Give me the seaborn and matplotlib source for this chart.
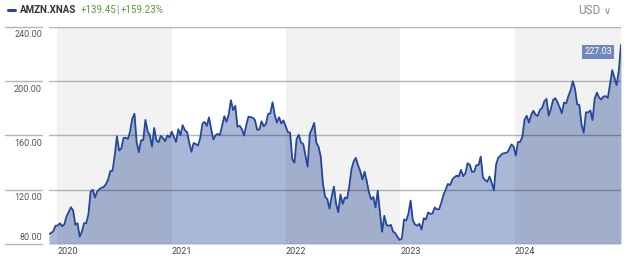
import numpy as np
import pandas as pd
import matplotlib
matplotlib.use("Agg")
import matplotlib.pyplot as plt
import matplotlib.dates as mdates
import matplotlib.transforms as mtransforms
from matplotlib.lines import Line2D
import seaborn as sns

# ---------------- data (weekly closes, AMZN, USD) ----------------
start_date = "2019-12-06"
prices = [
    # Dec 2019
    87.6, 88.0, 89.6, 93.5,
    # 2020
    93.7, 95.3, 93.1, 94.6, 100.4,
    103.6, 107.1, 104.8, 94.2,
    95.3, 85.5, 89.0, 95.4,
    95.3, 102.1, 118.6, 120.0,
    114.3, 118.7, 120.4, 121.5, 122.1,
    124.2, 127.7, 133.8, 134.0,
    145.5, 159.4, 149.0, 150.4, 158.2,
    158.4, 157.4, 163.0, 172.5,
    176.0, 155.1, 147.7, 156.4,
    156.6, 171.5, 163.1, 160.2, 151.8,
    165.6, 156.4, 155.0, 159.8,
    158.1, 155.8, 160.1, 158.6, 162.8,
    # 2021
    159.1, 155.2, 164.6, 160.3,
    167.6, 163.9, 162.5, 154.6,
    148.0, 154.5, 153.7, 152.6,
    158.1, 168.6, 170.0, 167.0, 173.4,
    164.6, 157.0, 160.2, 161.2,
    160.3, 167.3, 174.3, 170.1,
    175.5, 186.0, 178.7, 181.9, 166.4,
    167.2, 164.7, 160.0, 167.5,
    173.9, 173.5, 173.1, 171.3,
    164.2, 164.4, 170.5, 166.8, 168.6,
    175.9, 176.3, 184.5, 175.2,
    169.5, 173.4, 168.9, 171.1, 166.7,
    # 2022
    162.6, 162.1, 142.6, 140.0,
    157.6, 160.5, 154.7, 153.8,
    145.6, 137.0, 161.3, 164.8, 169.3,
    154.5, 151.7, 144.4, 124.3,
    114.8, 113.1, 106.0, 115.1,
    122.3, 109.6, 103.5, 116.5,
    109.6, 114.3, 113.5, 122.4, 135.0,
    140.8, 143.5, 138.2, 133.8,
    127.5, 133.3, 126.3, 118.0, 113.0,
    114.6, 106.9, 119.3, 103.4,
    89.0, 100.8, 94.1, 93.4,
    94.1, 89.2, 87.9, 85.3, 83.0,
    # 2023
    84.0, 98.1, 97.3, 102.2,
    112.0, 97.6, 94.4, 93.5,
    94.9, 90.7, 99.0, 98.1, 103.3,
    102.1, 102.5, 107.0, 105.5,
    105.7, 110.3, 116.3, 120.1,
    124.3, 123.4, 127.5, 129.3, 130.4,
    129.8, 134.7, 130.0, 132.2,
    139.6, 138.4, 133.2, 133.3,
    138.1, 138.2, 144.5, 129.1, 127.1,
    125.9, 129.8, 125.2, 119.6,
    138.6, 143.6, 145.2, 146.7,
    147.0, 147.4, 150.0, 153.4, 151.9,
    # 2024
    145.2, 155.2, 155.3, 159.1,
    171.8, 174.5, 169.5, 175.0,
    178.2, 175.4, 174.4, 178.9, 180.4,
    185.1, 187.0, 174.6, 179.6,
    186.2, 187.5, 184.7, 180.8, 176.4,
    184.3, 183.7, 189.1, 193.3,
    200.0, 194.5, 183.1, 182.5,
    167.9, 162.0, 177.1, 177.0, 178.5,
    171.4, 187.0, 191.6, 188.0,
    186.5, 188.8, 189.0, 187.8,
    197.9, 208.2, 202.6, 197.1, 207.9,
    227.03,
]
dates = pd.date_range(start_date, periods=len(prices), freq="7D")
df = pd.DataFrame({"date": dates, "price": prices})

ticker = "AMZN.XNAS"
change_abs = "+139.45"
change_pct = "+159.23%"
currency = "USD"
last_label = "227.03"
y_ticks = [80, 120, 160, 200, 240]
y_tick_labels = ["80.00", "120.00", "160.00", "200.00", "240.00"]
years = [2020, 2021, 2022, 2023, 2024]

# ---------------- style ----------------
sns.set_theme(style="white")
plt.rcParams["font.family"] = ["Liberation Sans Narrow", "Roboto", "DejaVu Sans"]

W, H = 624, 259
fig = plt.figure(figsize=(W / 100, H / 100), dpi=100)
ax = fig.add_axes([49 / W, (H - 244) / H, (621 - 49) / W, (244 - 27) / H])

line_col = "#23479b"
fill_col = "#aab8d8"
grid_col = "#b4b4b4"
text_col = "#555555"

x0 = df["date"].iloc[0]
x1 = df["date"].iloc[-1]
ax.set_xlim(x0, x1)
ax.set_ylim(80, 240)

# fill
ax.fill_between(df["date"], df["price"], 80, color=fill_col, lw=0, zorder=1)

# alternating year bands (drawn over fill, semi-transparent)
for i, yr in enumerate(years):
    if i % 2 == 0:
        a = pd.Timestamp(f"{yr}-01-01")
        b = pd.Timestamp(f"{yr + 1}-01-01")
        ax.axvspan(a, min(b, x1 + pd.Timedelta(days=3)), color="black",
                   alpha=0.05, lw=0, zorder=2)

# gridlines
for yv in y_ticks:
    ax.axhline(yv, color="black", alpha=0.28, lw=1.0, zorder=3)

# line
sns.lineplot(data=df, x="date", y="price", ax=ax, color=line_col,
             lw=1.3, zorder=4, legend=False)

ax.set_xlabel("")
ax.set_ylabel("")
for s in ax.spines.values():
    s.set_visible(False)
ax.set_yticks([])
ax.set_xticks([])

# left gridline stubs and y labels
blend = mtransforms.blended_transform_factory(ax.transAxes, ax.transData)
axw = 621 - 49
for yv, lab in zip(y_ticks, y_tick_labels):
    ax.plot([-44 / axw, -7 / axw], [yv, yv], transform=blend,
            color=grid_col, lw=1.0, clip_on=False)
    if yv == y_ticks[0]:
        off = mtransforms.ScaledTranslation(0, 6 / 100, fig.dpi_scale_trans)
    else:
        off = mtransforms.ScaledTranslation(0, -8 / 100, fig.dpi_scale_trans)
    ax.text(-7 / axw, yv, lab, transform=blend + off, ha="right", va="center",
            fontsize=6.5, color=text_col)

# year labels
blend_x = mtransforms.blended_transform_factory(ax.transData, ax.transAxes)
for yr in years:
    ax.text(mdates.date2num(pd.Timestamp(f"{yr}-01-01")), -0.012, str(yr),
            transform=blend_x, ha="left", va="top", fontsize=6.5, color="#444444")

# last value label
ax.annotate(last_label, xy=(x1, prices[-1]), xycoords="data",
            xytext=(612 / W, (H - 52) / H), textcoords="figure fraction",
            ha="right", va="center", fontsize=6.5, color="white",
            bbox=dict(boxstyle="square,pad=0.25", fc="#7188bd", ec="none"),
            zorder=6)

# header
yh = 1 - 10 / H
fig.add_artist(Line2D([8 / W, 15 / W], [yh, yh], color=line_col, lw=2.2,
                      transform=fig.transFigure))
fig.text(20 / W, yh, ticker, color="#333333", fontsize=7,
         fontweight="bold", ha="left", va="center")
fig.text(81 / W, yh, change_abs, color="#5b9a3c", fontsize=7,
         ha="left", va="center")
fig.text(116 / W, yh, "|", color="#6f8fd0", fontsize=7,
         ha="left", va="center")
fig.text(121 / W, yh, change_pct, color="#5b9a3c", fontsize=7,
         ha="left", va="center")
fig.text(578 / W, 1 - 11 / H, currency, color="#8a8a8a", fontsize=8.5,
         ha="left", va="center")
fig.text(604 / W, 1 - 11 / H, "\u2228", color="#8a8a8a", fontsize=7,
         ha="left", va="center", family=["DejaVu Sans"])

fig.savefig("out.png", dpi=100)
